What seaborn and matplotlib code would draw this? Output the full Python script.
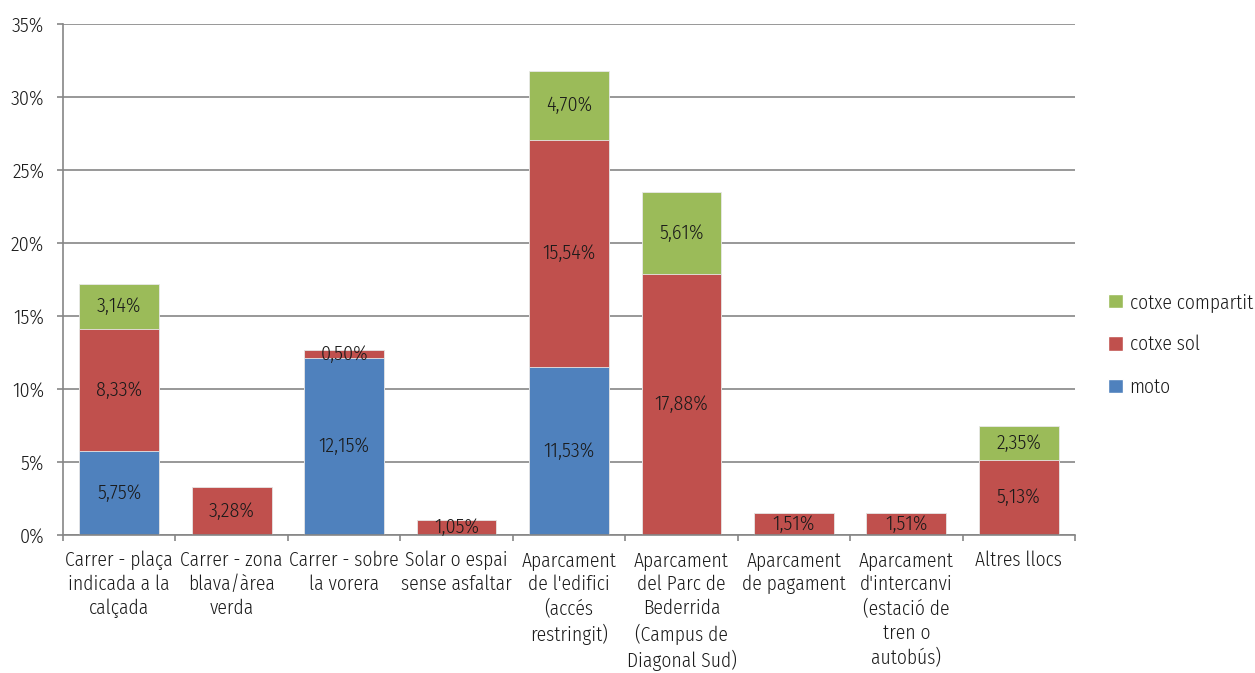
import matplotlib
matplotlib.use("Agg")
import matplotlib.pyplot as plt
import seaborn as sns
import pandas as pd
import numpy as np
from matplotlib.patches import Patch

categories = [
    "Carrer - plaça\nindicada a la\ncalçada",
    "Carrer - zona\nblava/àrea\nverda",
    "Carrer - sobre\nla vorera",
    "Solar o espai\nsense asfaltar",
    "Aparcament\nde l'edifici\n(accés\nrestringit)",
    "Aparcament\ndel Parc de\nBederrida\n(Campus de\nDiagonal Sud)",
    "Aparcament\nde pagament",
    "Aparcament\nd'intercanvi\n(estació de\ntren o\nautobús)",
    "Altres llocs",
]
moto = [5.75, 0.0, 12.15, 0.0, 11.53, 0.0, 0.0, 0.0, 0.0]
cotxe_sol = [8.33, 3.28, 0.50, 1.05, 15.54, 17.88, 1.51, 1.51, 5.13]
cotxe_compartit = [3.14, 0.0, 0.0, 0.0, 4.70, 5.61, 0.0, 0.0, 2.35]

series_names = ["moto", "cotxe sol", "cotxe compartit"]
series_values = [moto, cotxe_sol, cotxe_compartit]
colors = ["#4F81BD", "#C0504D", "#9BBB59"]

sns.set_theme(style="white")
plt.rcParams["font.family"] = ["Fira Sans Condensed", "Roboto Condensed", "DejaVu Sans"]
plt.rcParams["font.weight"] = 300

FS = 14
FS_NUM = 14.5
TXT = "#1a1a1a"

df = pd.DataFrame({"categoria": categories})
cum = np.zeros(len(categories))
tops = []
for vals in series_values:
    cum = cum + np.array(vals)
    tops.append(cum.copy())

fig = plt.figure(figsize=(12.55, 6.73), dpi=100)
ax = fig.add_axes([0.0502, 0.205, 0.8064, 0.7593])

# Stack by drawing cumulative totals from the top series down
for i in reversed(range(len(series_values))):
    d = df.copy()
    d["valor"] = tops[i]
    sns.barplot(data=d, x="categoria", y="valor", color=colors[i],
                saturation=1, width=0.71, edgecolor="#E8E8E8", linewidth=0.6,
                ax=ax, zorder=2)

# Segment value labels
bottoms = np.zeros(len(categories))
for vals in series_values:
    for j, v in enumerate(vals):
        if v > 0:
            y = bottoms[j] + v / 2
            ax.text(j, y, f"{v:.2f}%".replace(".", ","), ha="center",
                    va="center", fontsize=FS_NUM, color=TXT, zorder=3)
    bottoms = bottoms + np.array(vals)

ax.set_ylim(0, 35)
ax.set_xlim(-0.5, len(categories) - 0.5)
ax.set_yticks(np.arange(0, 36, 5))
ax.set_yticklabels([f"{t}%" for t in range(0, 36, 5)], fontsize=FS_NUM, color=TXT)
ax.set_xlabel("")
ax.set_ylabel("")

ax.yaxis.grid(True, color="#868686", linewidth=1.2, zorder=0)
ax.set_axisbelow(True)
for s in ["top", "right"]:
    ax.spines[s].set_visible(False)
for s in ["left", "bottom"]:
    ax.spines[s].set_color("#868686")
    ax.spines[s].set_linewidth(1.2)

# Category labels between boundary tick marks
ax.set_xticks(np.arange(-0.5, len(categories), 1.0))
ax.set_xticklabels([])
ax.set_xticks(np.arange(len(categories)), minor=True)
ax.set_xticklabels(categories, minor=True, fontsize=FS, color=TXT,
                   linespacing=1.3, va="top")
ax.tick_params(axis="x", which="major", length=4.5, width=1.2, color="#868686",
               direction="out", bottom=True)
ax.tick_params(axis="x", which="minor", length=0, pad=11)
ax.tick_params(axis="y", length=4.5, width=1.2, color="#868686", direction="out",
               left=True, pad=9)

handles = [Patch(facecolor=colors[i], label=series_names[i]) for i in reversed(range(3))]
fig.legend(handles=handles, loc="center left", bbox_to_anchor=(0.883, 0.488),
           frameon=False, fontsize=FS, handlelength=0.75, handleheight=0.75,
           handletextpad=0.35, labelspacing=1.18, labelcolor=TXT,
           borderpad=0, borderaxespad=0)

fig.savefig("out.png", dpi=100)
